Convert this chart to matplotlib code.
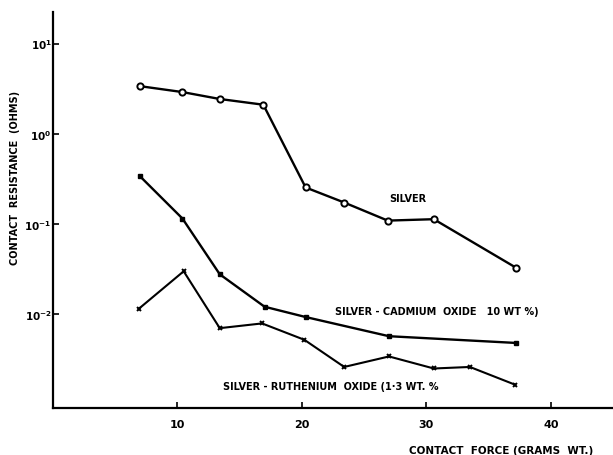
import matplotlib
matplotlib.use("Agg")
import matplotlib.pyplot as plt
from matplotlib.ticker import FixedLocator, NullLocator

silver_x = [7.0, 10.4, 13.4, 16.9, 20.3, 23.4, 26.9, 30.6, 37.2]
silver_y = [3.37, 2.9, 2.43, 2.1, 0.254, 0.173, 0.109, 0.113, 0.0328]

cadmium_x = [7.0, 10.4, 13.4, 17.0, 20.3, 27.0, 37.2]
cadmium_y = [0.337, 0.115, 0.0277, 0.0121, 0.0093, 0.0057, 0.0048]

ruth_x = [6.9, 10.5, 13.4, 16.8, 20.2, 23.4, 27.0, 30.6, 33.5, 37.1]
ruth_y = [0.0115, 0.0299, 0.0070, 0.0079, 0.0052, 0.0026, 0.0034, 0.0025, 0.0026, 0.00166]

x_ticks = [10, 20, 30, 40]
y_ticks = [1e-2, 1e-1, 1e0, 1e1]
y_tick_labels = [r"$\mathbf{10^{-2}}$", r"$\mathbf{10^{-1}}$", r"$\mathbf{10^{0}}$", r"$\mathbf{10^{1}}$"]

fig = plt.figure(figsize=(6.13, 4.56), dpi=100)
ax = fig.add_axes([53/613, 1 - 409/456, 1 - 53/613, (409 - 13)/456])

ax.plot(silver_x, silver_y, color="black", lw=1.7, marker="o", ms=4.5,
        mfc="white", mec="black", mew=1.4)
ax.plot(cadmium_x, cadmium_y, color="black", lw=1.7, marker="s", ms=3.5,
        mfc="black", mec="black")
ax.plot(ruth_x, ruth_y, color="black", lw=1.5, marker="x", ms=3.5,
        mec="black", mew=1.4)

ax.set_yscale("log")
ax.set_xlim(0, 45)
ax.set_ylim(10**-3.04, 10**1.35)

ax.xaxis.set_major_locator(FixedLocator(x_ticks))
ax.set_xticklabels([str(t) for t in x_ticks], fontsize=8, fontweight="bold")
ax.yaxis.set_major_locator(FixedLocator(y_ticks))
ax.yaxis.set_minor_locator(NullLocator())
ax.set_yticklabels(y_tick_labels, fontsize=7.5)

ax.tick_params(axis="both", direction="in", length=4, width=1.2, pad=8)
ax.tick_params(axis="y", pad=1)

for s in ["top", "right"]:
    ax.spines[s].set_visible(False)
ax.spines["left"].set_linewidth(1.6)
ax.spines["bottom"].set_linewidth(1.6)

fig.text(15/613, 1 - 178/456, "CONTACT  RESISTANCE  (OHMS)", rotation=90,
         ha="center", va="center", fontsize=7, fontweight="bold")
fig.text(501/613, 1 - 451/456, "CONTACT  FORCE (GRAMS  WT.)",
         ha="center", va="center", fontsize=7.5, fontweight="bold")

ax.annotate("SILVER", xy=(408, 456 - 199), xycoords="figure pixels",
            ha="center", va="center", fontsize=7, fontweight="bold")
ax.annotate("SILVER - CADMIUM  OXIDE   10 WT %)", xy=(335, 456 - 312),
            xycoords="figure pixels", ha="left", va="center",
            fontsize=7, fontweight="bold")
ax.annotate("SILVER - RUTHENIUM  OXIDE (1·3 WT. %", xy=(223, 456 - 387),
            xycoords="figure pixels", ha="left", va="center",
            fontsize=7, fontweight="bold")

fig.savefig("out.png", dpi=100)
